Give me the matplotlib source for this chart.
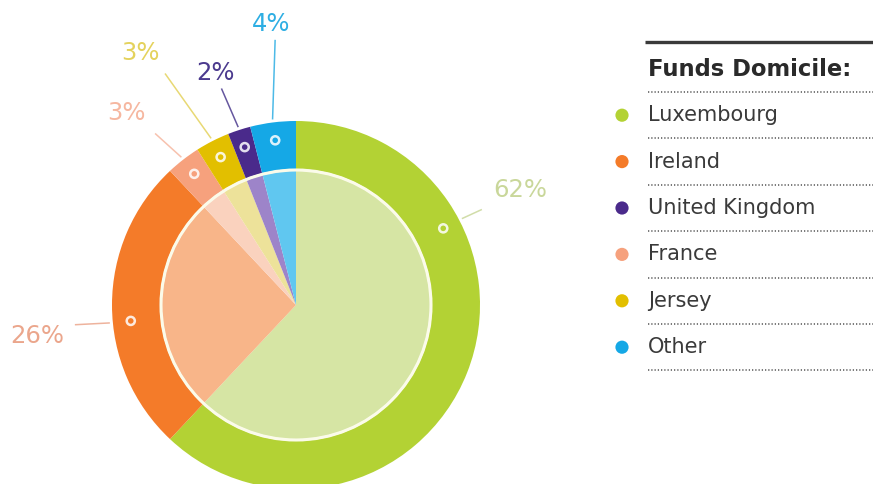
import numpy as np
import matplotlib.pyplot as plt
from matplotlib.patches import Circle

# Fund domicile shares (%), in the order the slices run clockwise from 12 o'clock
domiciles = ["Luxembourg", "Ireland", "France", "Jersey", "United Kingdom", "Other"]
shares = [62, 26, 3, 3, 2, 4]
share_labels = ["62%", "26%", "3%", "3%", "2%", "4%"]

# Legend rows in their own order
legend_order = ["Luxembourg", "Ireland", "United Kingdom", "France", "Jersey", "Other"]
legend_title = "Funds Domicile:"

# Colours
ring_colors = {
    "Luxembourg": "#b3d234", "Ireland": "#f47b29", "France": "#f6a17d",
    "Jersey": "#e2bf00", "United Kingdom": "#4a2a8b", "Other": "#15a8e6",
}
core_colors = {
    "Luxembourg": "#d6e5a4", "Ireland": "#f8b589", "France": "#fad2be",
    "Jersey": "#ede29a", "United Kingdom": "#9d84c9", "Other": "#60c7f0",
}
label_colors = {
    "Luxembourg": "#c9d79a", "Ireland": "#eba68c", "France": "#f6b7a0",
    "Jersey": "#e4d25c", "United Kingdom": "#4b3a8e", "Other": "#2eaee3",
}

fig = plt.figure(figsize=(8.73, 4.84), dpi=100)
ax = fig.add_axes([0, 0, 1, 1])
ax.set_xlim(0, 873)
ax.set_ylim(484, 0)          # pixel-like frame, y grows downward
ax.set_aspect("equal")
ax.axis("off")

cx, cy = 296, 305
R_OUT, RING_W, R_CORE = 184, 48, 134


def polar(angle_deg, r):
    """Clockwise angle from 12 o'clock -> frame coordinates."""
    a = np.deg2rad(angle_deg)
    return cx + r * np.sin(a), cy - r * np.cos(a)


# With y inverted, counter-clockwise in data space reads clockwise on screen
pie_kw = dict(startangle=-90, counterclock=True, center=(cx, cy), frame=True)

ax.pie(shares, radius=R_OUT, colors=[ring_colors[d] for d in domiciles],
       wedgeprops=dict(width=RING_W, linewidth=0), **pie_kw)
ax.pie(shares, radius=R_CORE, colors=[core_colors[d] for d in domiciles],
       wedgeprops=dict(linewidth=0), **pie_kw)
ax.add_patch(Circle((cx, cy), R_CORE + 1, facecolor="none",
                    edgecolor="#fbfbea", linewidth=2.2, zorder=3))

ax.set_xlim(0, 873)
ax.set_ylim(484, 0)

# Label geometry (angles clockwise from top, radii from centre)
bounds = np.concatenate([[0], np.cumsum(shares)]) * 3.6
mid_angles = (bounds[:-1] + bounds[1:]) / 2
marker_angles = [62.5, 264.5] + list(mid_angles[2:])
leader_ends = [(62.8, 209), (264.9, 222), (320.6, 222), (330.5, 266), (341.0, 229), (355.5, 266)]
text_spots = [(62.8, 252), (263.2, 261), (318.6, 256), (328.4, 296), (340.8, 246), (355.0, 282)]

for d, lab, ma, le, ts in zip(domiciles, share_labels, marker_angles, leader_ends, text_spots):
    mx, my = polar(ma, 166)
    ax.scatter([mx], [my], s=34, facecolors="none", edgecolors="white",
               linewidths=1.8, alpha=0.85, zorder=5)
    x0, y0 = polar(ma, 187)
    x1, y1 = polar(*le)
    ax.plot([x0, x1], [y0, y1], color=label_colors[d], lw=1.1, alpha=0.85,
            solid_capstyle="butt", zorder=4)
    tx, ty = polar(*ts)
    ax.text(tx, ty, lab, color=label_colors[d], fontsize=17.5, family="DejaVu Sans",
            ha="center", va="center", zorder=6)

# Legend
LX0, LX1 = 645, 873
ax.plot([LX0, LX1], [42, 42], color="#3a3a3a", lw=2.4, solid_capstyle="butt")
ax.text(648, 70, legend_title, fontsize=16.3, family="DejaVu Sans", fontweight="bold",
        color="#2a2a2a", ha="left", va="center")

row_top = 92
row_gap = 46.4
dot_style = dict(color="#6e6e6e", lw=1.3, linestyle=(0, (0.7, 1.1)))
ax.plot([648, LX1], [row_top, row_top], **dot_style)
for i, name in enumerate(legend_order):
    yc = row_top + row_gap * (i + 0.5)
    ax.scatter([622], [yc], s=90, color=ring_colors[name], edgecolors="none")
    ax.text(648, yc, name, fontsize=15, family="DejaVu Sans", color="#3a3a3a",
            ha="left", va="center")
    yl = row_top + row_gap * (i + 1)
    ax.plot([648, LX1], [yl, yl], **dot_style)

fig.savefig("out.png", dpi=100)
